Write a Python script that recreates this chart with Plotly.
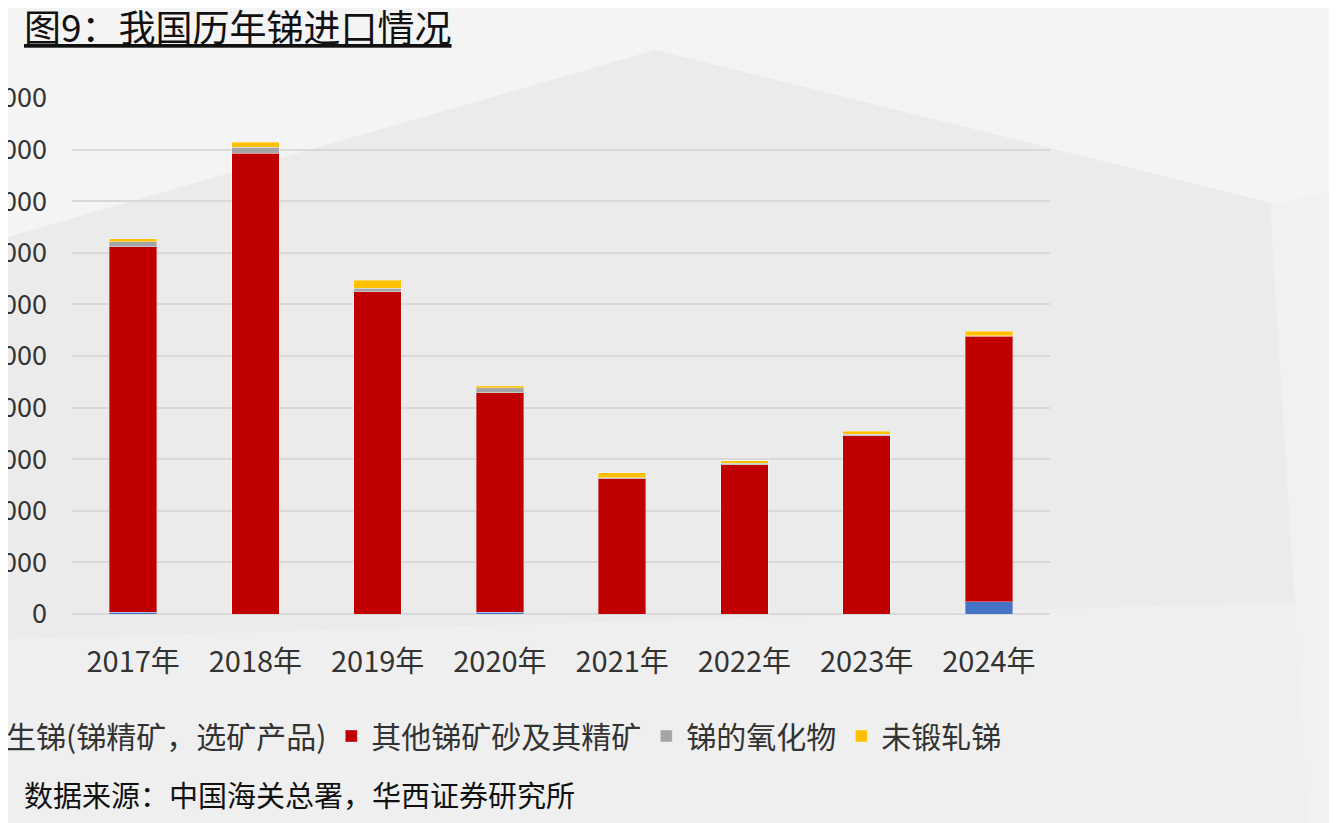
import plotly.graph_objects as go

# 我国历年锑进口 (吨)
years = ['2017年', '2018年', '2019年', '2020年', '2021年', '2022年', '2023年', '2024年']
raw_sb = [300, 0, 0, 300, 0, 0, 0, 2400]                       # 生锑(锑精矿，选矿产品)
other_ore = [70900, 89300, 62500, 42600, 26200, 28900, 34500, 51400]  # 其他锑矿砂及其精矿
sb_oxide = [950, 1150, 650, 950, 250, 300, 330, 100]          # 锑的氧化物
unwrought = [600, 1000, 1550, 350, 950, 520, 580, 900]        # 未锻轧锑

y_ticks = [0, 10000, 20000, 30000, 40000, 50000, 60000, 70000, 80000, 90000, 100000]

names = ['生锑(锑精矿，选矿产品)', '其他锑矿砂及其精矿', '锑的氧化物', '未锻轧锑']
colors = ['#4472C4', '#C00000', '#A5A5A5', '#FFC000']
series = [raw_sb, other_ore, sb_oxide, unwrought]

FONT = 'Noto Sans CJK SC'
OFF = 8  # page body margin
W, H = 1337 - OFF, 823 - OFF
L, R, T, B = 72 - OFF, 287, 98 - OFF, 209
PW, PH = W - L - R, H - T - B


def px(x, y):
    # window pixel position -> paper coords of the plot area
    return (x - OFF - L) / PW, (H - B - (y - OFF)) / PH


def poly(points):
    pts = [px(x, y) for x, y in points]
    d = 'M ' + ' L '.join(f'{a:.4f},{b:.4f}' for a, b in pts) + ' Z'
    return d


fig = go.Figure()
for name, col, vals in zip(names, colors, series):
    fig.add_trace(go.Bar(x=years, y=vals, name=name,
                         marker=dict(color=col, line=dict(color='rgba(255,255,255,0.35)', width=1))))

# soft grey facets of the slide background
shapes = [
    dict(type='path', path=poly([(-20, -20), (1360, -20), (1360, 225), (655, 50), (-20, 245)]),
         xref='paper', yref='paper', fillcolor='#f4f4f4', line=dict(width=0), layer='below'),
    dict(type='path', path=poly([(-20, 640), (1360, 600), (1360, 850), (-20, 850)]),
         xref='paper', yref='paper', fillcolor='#efefef', line=dict(width=0), layer='below'),
    dict(type='path', path=poly([(1270, 205), (1360, 185), (1360, 850), (1310, 850)]),
         xref='paper', yref='paper', fillcolor='#f1f1f1', line=dict(width=0), layer='below'),
]

x0, _ = px(22, 0)
_, yt = px(0, 26)
_, ys = px(0, 794)
lx, _ = px(-34, 0)
_, ly = px(0, 736)

fig.update_layout(
    width=W, height=H,
    barmode='stack', bargap=0.61,
    margin=dict(l=L, r=R, t=T, b=B, autoexpand=False),
    paper_bgcolor='#ebebeb', plot_bgcolor='rgba(0,0,0,0)',
    font=dict(family=FONT, color='#333333'),
    shapes=shapes,
    showlegend=True,
    legend=dict(orientation='h', x=lx, y=ly, xanchor='left', yanchor='middle',
                font=dict(size=30, family=FONT, color='#333333'),
                bgcolor='rgba(0,0,0,0)', traceorder='normal'),
    annotations=[
        dict(text='<u>图9：我国历年锑进口情况</u>', x=x0, y=yt, xref='paper', yref='paper',
             xanchor='left', yanchor='middle', showarrow=False,
             font=dict(size=37, family=FONT, color='#111111')),
        dict(text='数据来源：中国海关总署，华西证券研究所', x=x0, y=ys, xref='paper', yref='paper',
             xanchor='left', yanchor='middle', showarrow=False,
             font=dict(size=29, family=FONT, color='#111111')),
    ],
)
fig.update_xaxes(showgrid=False, showline=False, ticks='', ticklabelstandoff=28,
                 tickfont=dict(size=29, family=FONT, color='#333333'), automargin=False)
fig.update_yaxes(range=[0, 100000], tickvals=y_ticks, tickformat='d', showgrid=True,
                 gridcolor='#d9d9d9', gridwidth=2, zeroline=True, zerolinecolor='#d9d9d9',
                 zerolinewidth=2, showline=False, ticks='', ticklabelstandoff=24,
                 tickfont=dict(size=27, family=FONT, color='#333333'), automargin=False)

fig.write_html('out.html')
